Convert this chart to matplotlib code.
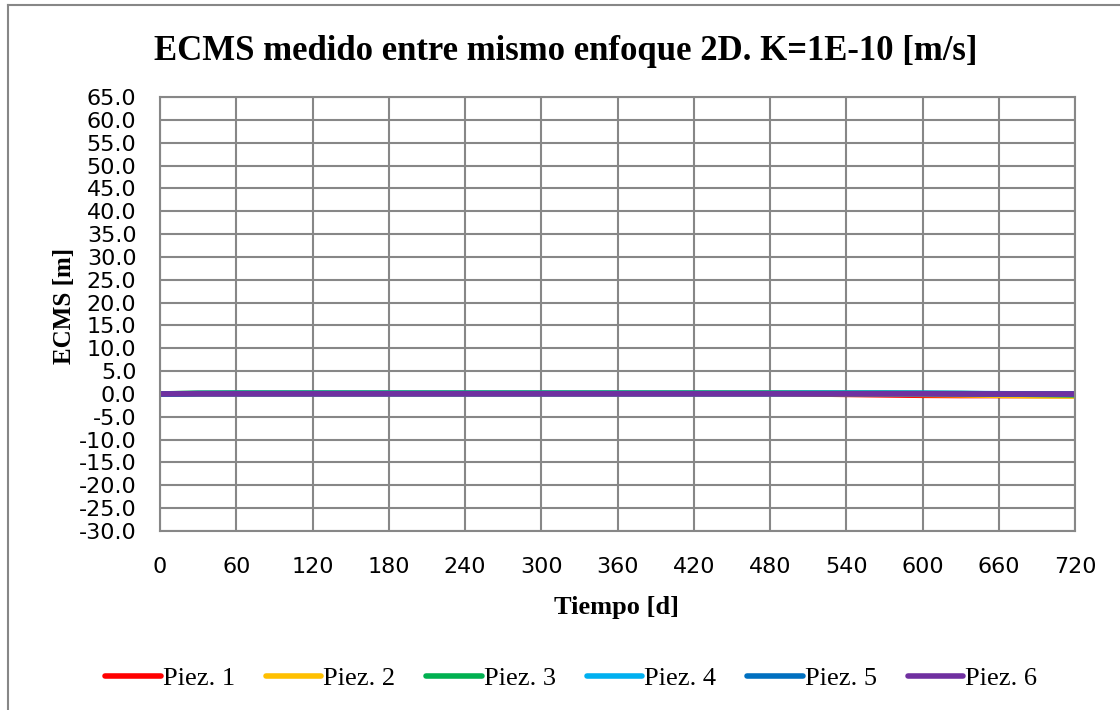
import matplotlib
matplotlib.use('Agg')
import matplotlib.pyplot as plt
from matplotlib.lines import Line2D
import numpy as np

tiempo = [0, 30, 60, 90, 120, 150, 180, 210, 240, 270, 300, 330, 360, 390, 420, 450,
          480, 510, 540, 570, 600, 630, 660, 690, 720]
piez1 = [0.0, 0.05, 0.05, 0.05, 0.05, 0.05, 0.05, 0.05, 0.05, 0.05, 0.05, 0.05, 0.05, 0.05,
         0.05, 0.05, 0.05, 0.0, -0.1, -0.2, -0.3, -0.35, -0.35, -0.35, -0.35]
piez2 = [0.0, 0.1, 0.1, 0.1, 0.1, 0.1, 0.1, 0.1, 0.1, 0.1, 0.1, 0.1, 0.1, 0.1,
         0.1, 0.1, 0.1, 0.1, 0.05, 0.0, -0.1, -0.2, -0.3, -0.4, -0.45]
piez3 = [0.0, 0.15, 0.2, 0.2, 0.2, 0.2, 0.2, 0.2, 0.2, 0.2, 0.2, 0.2, 0.2, 0.2,
         0.2, 0.2, 0.2, 0.2, 0.2, 0.2, 0.15, 0.1, 0.0, -0.1, -0.2]
piez4 = [0.0, 0.1, 0.1, 0.1, 0.1, 0.1, 0.1, 0.1, 0.1, 0.1, 0.1, 0.1, 0.1, 0.1,
         0.1, 0.1, 0.1, 0.15, 0.15, 0.15, 0.15, 0.1, 0.05, 0.0, 0.0]
piez5 = [0.0, 0.05, 0.05, 0.05, 0.05, 0.05, 0.05, 0.05, 0.05, 0.05, 0.05, 0.05, 0.05, 0.05,
         0.05, 0.05, 0.05, 0.05, 0.05, 0.05, 0.05, 0.05, 0.0, 0.0, 0.0]
piez6 = [0.0, 0.05, 0.05, 0.05, 0.05, 0.05, 0.05, 0.05, 0.05, 0.05, 0.05, 0.05, 0.05, 0.05,
         0.05, 0.05, 0.05, 0.05, 0.05, 0.05, 0.05, 0.0, 0.0, 0.0, 0.0]

series = [("Piez. 1", piez1, "#ff0000"),
          ("Piez. 2", piez2, "#ffc000"),
          ("Piez. 3", piez3, "#00b050"),
          ("Piez. 4", piez4, "#00b0f0"),
          ("Piez. 5", piez5, "#0070c0"),
          ("Piez. 6", piez6, "#7030a0")]

fig = plt.figure(figsize=(11.2, 7.1), dpi=100)
ax = fig.add_axes([0.1429, 0.2521, 0.8171, 0.6113])

for nombre, valores, color in series:
    ax.plot(tiempo, valores, color=color, linewidth=4, label=nombre, solid_capstyle='round')

ax.set_xlim(0, 720)
ax.set_ylim(-30, 65)
ax.set_xticks(np.arange(0, 721, 60))
ax.set_yticks(np.arange(-30, 66, 5))
ax.set_yticklabels([f"{v:.1f}" for v in np.arange(-30, 66, 5)])
ax.grid(True, color="#878787", linewidth=1.5)
for s in ax.spines.values():
    s.set_color("#878787")
    s.set_linewidth(1.5)
ax.tick_params(length=0, labelsize=16)
ax.tick_params(axis='y', pad=17)
ax.tick_params(axis='x', pad=19)

serif = "Liberation Serif"
fig.text(0.505, 0.928, "ECMS medido entre mismo enfoque 2D. K=1E-10 [m/s]", fontsize=25,
         fontweight='bold', family=serif, ha='center', va='center')
fig.text(0.550, 0.145, "Tiempo [d]", fontsize=19, fontweight='bold', family=serif,
         ha='center', va='center')
fig.text(0.058, 0.569, "ECMS [m]", fontsize=18, fontweight='bold', family=serif,
         ha='center', va='center', rotation=90)

leg = fig.legend(loc='center left', bbox_to_anchor=(0.094, 0.044), ncol=6, frameon=False,
                 prop={'family': serif, 'size': 19}, handlelength=2.1, handletextpad=0.08,
                 columnspacing=1.17, borderpad=0, borderaxespad=0)

fig.lines.append(Line2D([8 / 1120, 8 / 1120], [0, 1 - 5 / 710], transform=fig.transFigure,
                        color="#878787", linewidth=1.5))
fig.lines.append(Line2D([8 / 1120, 1], [1 - 5 / 710, 1 - 5 / 710], transform=fig.transFigure,
                        color="#878787", linewidth=1.5))

fig.savefig("out.png", dpi=100)
